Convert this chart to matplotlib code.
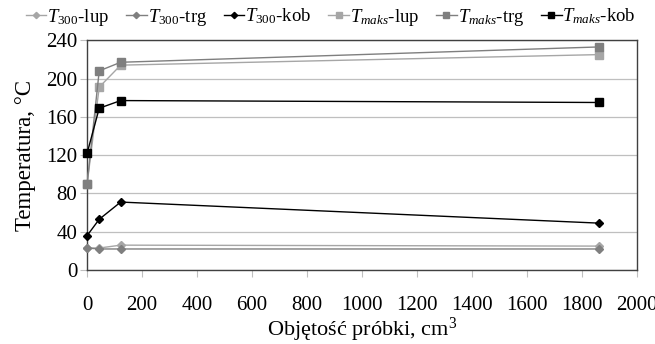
import matplotlib
matplotlib.use("Agg")
import matplotlib.pyplot as plt

plt.rcParams['font.family'] = ['Liberation Serif', 'DejaVu Serif']
plt.rcParams['mathtext.fontset'] = 'custom'
plt.rcParams['mathtext.rm'] = 'Liberation Serif'
plt.rcParams['mathtext.it'] = 'Liberation Serif:italic'

# data
volume = [0, 44, 122, 1860]
t300_lup = [23, 23, 26, 25]
t300_trg = [23, 22, 22, 22]
t300_kob = [36, 53, 71, 49]
tmaks_lup = [90, 191, 214, 225]
tmaks_trg = [90, 208, 217, 233]
tmaks_kob = [122, 169, 177, 175]

labels = [r'$T_{300}$-lup', r'$T_{300}$-trg', r'$T_{300}$-kob',
          r'$T_{maks}$-lup', r'$T_{maks}$-trg', r'$T_{maks}$-kob']

fig = plt.figure(figsize=(6.55, 3.44), dpi=100)
ax = fig.add_axes([0.133, 0.215, 0.84, 0.668])

light = '#a6a6a6'
mid = '#7f7f7f'
series = [
    (t300_lup, light, 'D', 4),
    (t300_trg, mid, 'D', 4),
    (t300_kob, 'black', 'D', 4),
    (tmaks_lup, light, 's', 5.5),
    (tmaks_trg, mid, 's', 5.5),
    (tmaks_kob, 'black', 's', 5.5),
]
for (vals, col, mk, ms), lab in zip(series, labels):
    ax.plot(volume, vals, color=col, marker=mk, markersize=ms, lw=1.0,
            label=lab, clip_on=False, zorder=3)

ax.set_xlim(0, 2000)
ax.set_ylim(0, 240)
ax.set_xticks(range(0, 2001, 200))
ax.set_yticks(range(0, 241, 40))
ax.yaxis.grid(True, color='#bfbfbf', lw=0.9)
ax.set_axisbelow(True)
for s in ax.spines.values():
    s.set_color('#404040')
    s.set_linewidth(1.0)
ax.tick_params(axis='x', direction='out', length=5, pad=14, color='#bfbfbf',
               labelsize=15)
ax.tick_params(axis='y', direction='out', length=5, pad=2, color='#bfbfbf',
               labelsize=15)
ax.set_xlabel('Objętość próbki, cm$^3$', fontsize=16, labelpad=0)
ax.set_ylabel('Temperatura, °C', fontsize=16.5, labelpad=7)

leg = fig.legend(loc='upper center', bbox_to_anchor=(0.505, 1.03), ncol=6,
                 frameon=False, fontsize=13.5, handlelength=1.1,
                 handletextpad=0.05, columnspacing=0.9, markerscale=0.8)

fig.savefig('out.png', dpi=100)
